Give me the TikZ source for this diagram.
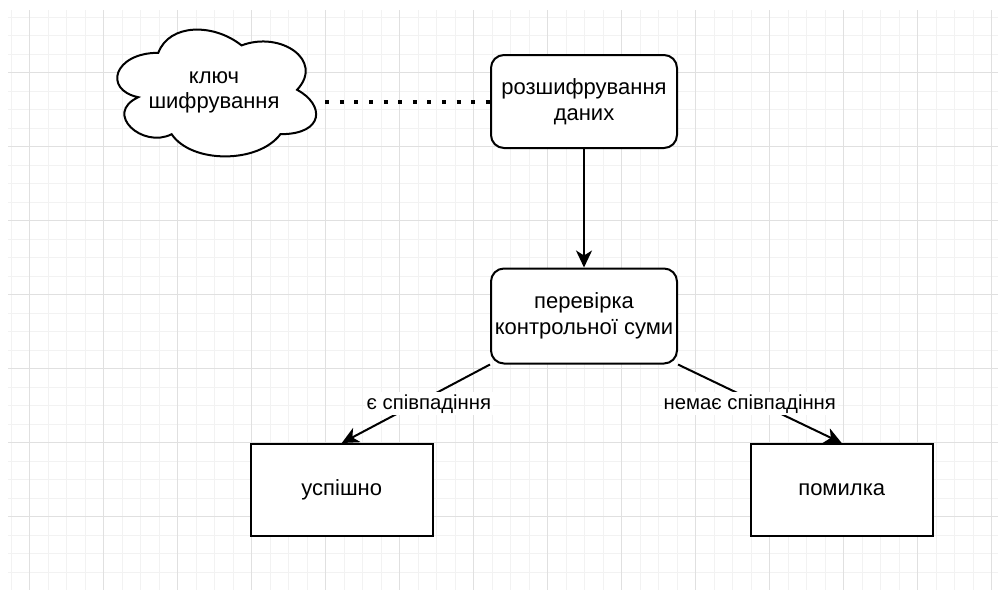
\documentclass[tikz,border=0pt]{standalone}
\usepackage{fontspec}
\setmainfont{Liberation Sans}
\usetikzlibrary{arrows.meta,calc}
\definecolor{gridminor}{HTML}{F2F2F2}
\definecolor{gridmajor}{HTML}{E0E0E0}

\begin{document}
\begin{tikzpicture}[x=1pt,y=-1pt,
  box/.style={draw=black, line width=2pt, fill=white, minimum width=186pt,
    minimum height=93pt, align=center, inner sep=0pt,
    font=\fontsize{22}{26.5}\selectfont},
  rbox/.style={box, rounded corners=13pt},
  flow/.style={line width=2pt, -{Stealth[length=17pt,width=16pt,inset=5pt]}},
  lbl/.style={fill=white, inner sep=2pt, font=\fontsize{20.3}{24}\selectfont},
  gridline/.style={line width=1pt},
]
% page and grid paper
\fill[white] (0,0) rectangle (998,590);
\useasboundingbox (0,0) rectangle (998,590);
\foreach \i in {0,...,53} \draw[gridline, gridminor] ({11+18.5*\i},10) -- ({11+18.5*\i},590);
\foreach \i in {0,...,30} \draw[gridline, gridminor] (8,{17+18.5*\i}) -- (998,{17+18.5*\i});
\foreach \i in {0,...,13} \draw[gridline, gridmajor] ({29.5+74*\i},10) -- ({29.5+74*\i},590);
\foreach \i in {0,...,6} \draw[gridline, gridmajor] (8,{72.5+74*\i}) -- (998,{72.5+74*\i});

% cloud holding the key
\node[minimum width=222pt, minimum height=148pt, inner sep=0pt] (key) at (214,90) {};
\begin{scope}[shift={(key.north west)}, x=222pt, y=-148pt]
  \draw[line width=2pt, fill=white]
    (0.25,0.25) .. controls (0.05,0.25) and (0,0.5) .. (0.16,0.55)
    .. controls (0,0.66) and (0.18,0.9) .. (0.31,0.8)
    .. controls (0.4,1) and (0.7,1) .. (0.8,0.8)
    .. controls (1,0.8) and (1,0.6) .. (0.875,0.5)
    .. controls (1,0.3) and (0.8,0.1) .. (0.625,0.2)
    .. controls (0.5,0.05) and (0.3,0.05) .. (0.25,0.25) -- cycle;
\end{scope}
\node[align=center, font=\fontsize{22}{25}\selectfont] (keytext) at ($(key)+(0,2)$) {ключ\\шифрування};

% process steps
\node[rbox] (dec) at (584,101.5) {розшифрування\\даних};
\node[rbox, minimum height=95pt] (chk) at (584,316) {перевірка\\контрольної суми};
\node[box, minimum width=181.5pt, minimum height=92pt] (ok) at (341.75,490) {успішно};
\node[box, minimum width=182pt, minimum height=92pt] (err) at (841.7,490) {помилка};

% connectors
\draw[line width=4pt, dash pattern=on 4pt off 10.6pt] (key.east |- dec.west) -- (dec.west);
\draw[flow] (dec.south) -- (chk.north);
\draw[flow] (chk.south west) -- node[lbl, pos=0.5, xshift=13pt] {є співпадіння} (ok.north);
\draw[flow] (chk.south east) -- node[lbl, pos=0.5, xshift=-10pt] {немає співпадіння} (err.north);
\end{tikzpicture}
\end{document}
